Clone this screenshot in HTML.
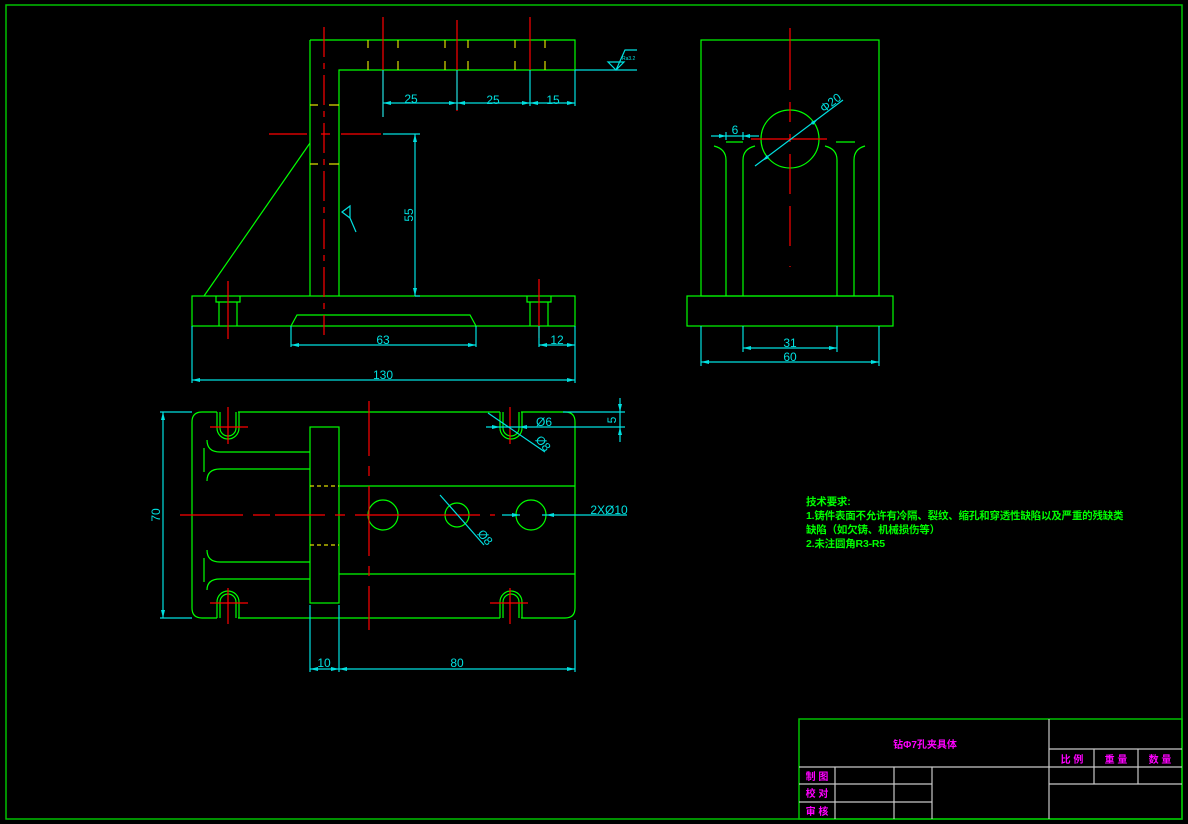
<!DOCTYPE html>
<html><head><meta charset="utf-8"><style>
html,body{margin:0;padding:0;background:#000;width:1188px;height:824px;overflow:hidden}
svg{display:block}
text{font-family:"Liberation Sans","Noto Sans CJK SC",sans-serif}
</style></head><body>
<svg width="1188" height="824" viewBox="0 0 1188 824" xmlns="http://www.w3.org/2000/svg">
<rect x="0" y="0" width="1188" height="824" fill="#000"/>
<rect x="6" y="5" width="1176" height="814" fill="none" stroke="#00c000" stroke-width="1.5"/>

<g fill="none" stroke-width="1.2">
<g stroke="#00ff00">
<path d="M310 40 H575 V70 H339 V296"/>
<path d="M310 40 V296"/>
<rect x="192" y="296" width="383" height="30"/>
<path d="M204 296 L310 143"/>
<path d="M216 296 V302 H240 V296 M219 302 V326 M237 302 V326"/>
<path d="M527 296 V302 H551 V296 M530 302 V326 M548 302 V326"/>
<path d="M291 326 L297 315 H470 L476 326"/>
</g>
<g stroke="#dddd00">
<path d="M368 40v8M368 61v9M398 40v8M398 61v9M445 40v8M445 61v9M468 40v8M468 61v9M515 40v8M515 61v9M545 40v8M545 61v9"/>
<path d="M310 105h8M329 105h10M310 164h8M329 164h10"/>
</g>
<g stroke="#ff0000">
<path d="M383 17V117M457 20V111M530 17V70" />
<path d="M324 27V335" stroke-dasharray="30 6 6 6"/>
<path d="M269 134H307M321 134H330M341 134H381"/>
<path d="M228 281V339M539 279V338"/>
</g>
<g stroke="#00e0e0">
<path d="M383 70V117M457 70V110M530 70V106M575 70V106"/>
<path d="M383 103H575"/>
<path d="M575 70H637"/>
<path d="M608 62 L616 70 L624 62 Z M616 70 L625 50 H637"/>
<path d="M383 134H420M415 134V296M415 296H420"/>
<path d="M192 326V383M575 326V383M291 326V347M476 326V347M539 326V347"/>
<path d="M192 380H575M291 345H476M539 345H575"/>
<path d="M342 212 L350 218 V206 Z M350 218 L356 232"/>
</g>
<g fill="#00e0e0" stroke="none">
<path d="M383 103l8-2v4zM457 103l-8-2v4zM457 103l8-2v4zM530 103l-8-2v4zM530 103l8-2v4zM575 103l-8-2v4z"/>
<path d="M415 134l-2 8h4zM415 296l-2-8h4z"/>
<path d="M192 380l8-2v4zM575 380l-8-2v4zM291 345l8-2v4zM476 345l-8-2v4zM539 345l8-2v4zM575 345l-8-2v4z"/>
</g>
<g fill="#00e0e0" stroke="none" font-size="12">
<text x="411" y="103" text-anchor="middle">25</text>
<text x="493" y="104" text-anchor="middle">25</text>
<text x="553" y="104" text-anchor="middle">15</text>
<text x="383" y="344" text-anchor="middle">63</text>
<text x="557" y="344" text-anchor="middle">12</text>
<text x="383" y="379" text-anchor="middle">130</text>
<text transform="translate(413,215) rotate(-90)" text-anchor="middle">55</text>
<text x="622" y="60" font-size="5">Ra3.2</text>
</g>

<g stroke="#00ff00">
<rect x="701" y="40" width="178" height="256"/>
<rect x="687" y="296" width="206" height="30"/>
<circle cx="790" cy="139" r="29"/>
<path d="M714 146 Q726 149 726 160 V296"/>
<path d="M755 146 Q743 149 743 160 V296"/>
<path d="M825 146 Q837 149 837 160 V296"/>
<path d="M865 146 Q854 149 854 160 V296"/>
<path d="M726 142H743M836 142H855"/>
</g>
<g stroke="#ff0000">
<path d="M790 28V267" stroke-dasharray="62 12 20 12 8 12 40 12 40 20"/>
<path d="M751 139H827"/>
</g>
<g stroke="#00e0e0">
<path d="M755 166 L843 100"/>
<path d="M711 136H759M726 132V140M743 132V140"/>
<path d="M743 326V352M837 326V352M701 326V366M879 326V366"/>
<path d="M743 348H837M701 362H879"/>
</g>
<g fill="#00e0e0" stroke="none">
<path d="M726 136l-7-2v4zM743 136l7-2v4z"/>
<path d="M743 348l8-2v4zM837 348l-8-2v4zM701 362l8-2v4zM879 362l-8-2v4z"/>
<path d="M762 161l5-6 2 3zM818 119l-5 6-2-3z"/>
</g>
<g fill="#00e0e0" stroke="none" font-size="12">
<text x="735" y="134" text-anchor="middle">6</text>
<text x="790" y="347" text-anchor="middle">31</text>
<text x="790" y="361" text-anchor="middle">60</text>
<text transform="translate(833,106) rotate(-37)" text-anchor="middle">Φ20</text>
</g>

<g stroke="#00ff00">
<path d="M217 412 H202 Q192 412 192 422 V608 Q192 618 202 618 H217"/>
<path d="M238 412 H500 M521 412 H565 Q575 412 575 422 V608 Q575 618 565 618 H521 M500 618 H238"/>
<path d="M217 412 V428 A11 11 0 0 0 239 428 V412"/>
<path d="M220 412 V428 A8 8 0 0 0 236 428 V412"/>
<path d="M217 618 V602 A11 11 0 0 1 239 602 V618"/>
<path d="M220 618 V602 A8 8 0 0 1 236 602 V618"/>
<path d="M500 412 V428 A11 11 0 0 0 522 428 V412"/>
<path d="M503 412 V428 A8 8 0 0 0 519 428 V412"/>
<path d="M500 618 V602 A11 11 0 0 1 522 602 V618"/>
<path d="M503 618 V602 A8 8 0 0 1 519 602 V618"/>
<rect x="310" y="427" width="29" height="176"/>
<path d="M339 486H575M339 574H575"/>
<path d="M207 440 Q207 452 220 452 H310 M207 481 Q207 469 220 469 H310"/>
<path d="M207 550 Q207 562 220 562 H310 M207 590 Q207 579 220 579 H310"/>
<path d="M204 448V472M204 558V582"/>
<circle cx="383" cy="515" r="15"/>
<circle cx="457" cy="515" r="12"/>
<circle cx="531" cy="515" r="15"/>
</g>
<g stroke="#dddd00" stroke-dasharray="4 3">
<path d="M310 486H339M310 545H339"/>
</g>
<g stroke="#ff0000">
<path d="M180 515H243M253 515H270M275 515H325M335 515H345M355 515H480M490 515H495"/>
<path d="M369 401V630" stroke-dasharray="55 10 10 10 70 10 10 10 60"/>
<path d="M210 427H248M228 407V444M210 603H248M228 588V624M490 603H528M510 588V624M510 407V444"/>
</g>
<g stroke="#00e0e0">
<path d="M160 412H192M160 618H192M163 412V618"/>
<path d="M310 605V672M339 605V672M575 620V672M310 669H575"/>
<path d="M563 412H625M486 427H625M620 398V442"/>
<path d="M488 413 L545 452"/>
<path d="M440 495 L484 545"/>
<path d="M502 515H520M542 515H627"/>
</g>
<g fill="#00e0e0" stroke="none">
<path d="M163 412l-2 8h4zM163 618l-2-8h4z"/>
<path d="M310 669l8-2v4zM339 669l-8-2v4zM339 669l8-2v4zM575 669l-8-2v4z"/>
<path d="M620 412l-2-8h4zM620 427l-2 8h4z"/>
<path d="M520 515l-8-2v4zM546 515l8-2v4z"/>
<path d="M500 427l-8-2v4zM519 427l8-2v4z"/>
</g>
<g fill="#00e0e0" stroke="none" font-size="12">
<text transform="translate(160,515) rotate(-90)" text-anchor="middle">70</text>
<text x="324" y="667" text-anchor="middle">10</text>
<text x="457" y="667" text-anchor="middle">80</text>
<text x="544" y="426" text-anchor="middle">Ø6</text>
<text transform="translate(616,420) rotate(-90)" text-anchor="middle">5</text>
<text x="609" y="514" text-anchor="middle">2XØ10</text>
<text transform="translate(540,446) rotate(50)" text-anchor="middle">Ø8</text>
<text transform="translate(482,540) rotate(50)" text-anchor="middle">Ø8</text>
</g>

<rect x="799" y="719" width="383" height="100" stroke="#00c000" stroke-width="1.5"/>
<g stroke="#c8c8c8">
<path d="M1049 719V819M799 767H1182M1049 749H1182M1049 784H1182M799 784H932M799 802H932"/>
<path d="M835 767V819M894 767V819M932 767V819M1094 749V784M1138 749V784"/>
</g>
</g>
<g fill="#ff00ff" font-size="10" font-weight="bold" font-family="'Liberation Sans','Noto Sans CJK SC',sans-serif">
<text x="925" y="748" text-anchor="middle">钻Φ7孔夹具体</text>
<text x="817" y="780" text-anchor="middle">制 图</text>
<text x="817" y="797" text-anchor="middle">校 对</text>
<text x="817" y="815" text-anchor="middle">审 核</text>
<text x="1072" y="763" text-anchor="middle">比 例</text>
<text x="1116" y="763" text-anchor="middle">重 量</text>
<text x="1160" y="763" text-anchor="middle">数 量</text>
</g>
<g fill="#00ff00" font-size="10.5" font-weight="bold" letter-spacing="-0.2" font-family="'Liberation Sans','Noto Sans CJK SC',sans-serif">
<text x="806" y="505">技术要求:</text>
<text x="806" y="519">1.铸件表面不允许有冷隔、裂纹、缩孔和穿透性缺陷以及严重的残缺类</text>
<text x="806" y="533">缺陷（如欠铸、机械损伤等）</text>
<text x="806" y="547">2.未注圆角R3-R5</text>
</g>
</svg>
</body></html>
